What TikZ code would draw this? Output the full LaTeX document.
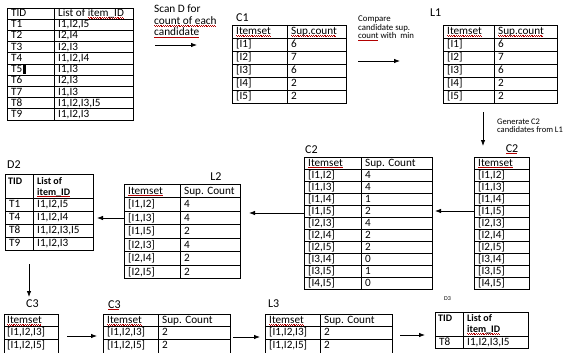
\documentclass[tikz,border=0pt]{standalone}
\usepackage{fontspec}
\setmainfont{Carlito}
\usetikzlibrary{arrows.meta}
% spell-check squiggle under a word
\newsavebox{\sqgbox}
\newcommand{\sqg}[1]{\sbox\sqgbox{#1}\rlap{\textcolor{red!70!black}{\hbox to \wd\sqgbox{\leaders\hbox{\vrule width 0.9pt height -0.9pt depth 1.4pt\vrule width 0.9pt height -1.4pt depth 1.9pt}\hfill}}}\usebox\sqgbox}

\begin{document}
\begin{tikzpicture}[x=1pt, y=-1pt, font=\fontsize{11.2}{12}\selectfont,
	frame/.style={draw, line width=0.8pt, anchor=north west, inner sep=0pt, outer sep=0pt},
	rule/.style={line width=0.8pt},
	cell/.style={anchor=base west, inner sep=0pt},
	tag/.style={anchor=base west, inner sep=0pt, font=\fontsize{12}{13}\selectfont},
	note/.style={anchor=north west, inner sep=0pt, align=left},
	arr/.style={-{Latex[length=6pt,width=4.5pt]}, line width=0.8pt}]
	\useasboundingbox (0,0) rectangle (567,353);
	\clip (0,0) rectangle (567,353);

	% database D
	\node[frame, minimum width=126, minimum height=112] (D) at (7,8) {};
	\draw[rule] (54,8) -- (54,120);
	\foreach \k in {1,...,9} \draw[rule] (7,{8+11.2*\k}) -- (133,{8+11.2*\k});
	\node[cell] (Dh1) at (11,16.6) {TID};
	\node[cell] (Dh2) at (58,16.6) {List of \sqg{item\_ID}};
	\foreach \t/\v [count=\k] in {T1/{I1,I2,I5}, T2/{I2,I4}, T3/{I2,I3}, T4/{I1,I2,I4}, T5/{I1,I3}, T6/{I2,I3}, T7/{I1,I3}, T8/{I1,I2,I3,I5}, T9/{I1,I2,I3}} {
		\node[cell] (Dt\k) at (11,{16.6+11.2*\k}) {\t};
		\node[cell] (Dv\k) at (58,{16.6+11.2*\k}) {\v};
	}
	\fill (Dt5.base east) ++(0.6,1.5) rectangle ++(2.4,-9.5);

	% scan D
	\node[note, font=\fontsize{11.3}{11.5}\selectfont] (scan) at (154,5) {Scan D for\\\sqg{count of each}\\\sqg{candidate}};
	\coordinate (s1) at (155,45);
	\coordinate (s2) at (197,45);
	\draw[arr] (s1) -- (s2);

	% C1
	\node[tag] (C1lab) at (236,22) {C1};
	\node[frame, minimum width=114, minimum height=78] (C1) at (232,25) {};
	\draw[rule] (287,25) -- (287,103);
	\foreach \k in {1,...,5} \draw[rule] (232,{25+13*\k}) -- (346,{25+13*\k});
	\node[cell] (C1h1) at (236,34.6) {\sqg{Itemset}};
	\node[cell] (C1h2) at (291,34.6) {\sqg{Sup.count}};
	\foreach \s/\c [count=\k] in {I1/6, I2/7, I3/6, I4/2, I5/2} {
		\node[cell] (C1s\k) at (236,{34.6+13*\k}) {[\s]};
		\node[cell] (C1c\k) at (291,{34.6+13*\k}) {\c};
	}

	% compare with min
	\node[note, font=\fontsize{8.8}{8.4}\selectfont] (cmp) at (358,16) {Compare\\candidate sup.\\\sqg{count} with~~min};
	\coordinate (m1) at (358,61);
	\coordinate (m2) at (400,61);
	\draw[arr] (m1) -- (m2);

	% L1
	\node[tag] (L1lab) at (430,17) {L1};
	\node[frame, minimum width=114, minimum height=78] (L1) at (443,25) {};
	\draw[rule] (494,25) -- (494,103);
	\foreach \k in {1,...,5} \draw[rule] (443,{25+13*\k}) -- (557,{25+13*\k});
	\node[cell] (L1h1) at (447,34.6) {\sqg{Itemset}};
	\node[cell] (L1h2) at (498,34.6) {\sqg{Sup.count}};
	\foreach \s/\c [count=\k] in {I1/6, I2/7, I3/6, I4/2, I5/2} {
		\node[cell] (L1s\k) at (447,{34.6+13*\k}) {[\s]};
		\node[cell] (L1c\k) at (498,{34.6+13*\k}) {\c};
	}

	% generate C2
	\coordinate (g1) at (483,112);
	\coordinate (g2) at (483,146);
	\draw[arr] (g1) -- (g2);
	\node[note, font=\fontsize{8.5}{8.2}\selectfont] (gen) at (497,119) {Generate C2\\candidates from L1};

	% C2 (candidates)
	\node[tag, anchor=base] (C2rlab) at (512,152) {\sqg{C2}};
	\node[frame, minimum width=55, minimum height=132] (C2r) at (474,157) {};
	\foreach \k in {1,...,10} \draw[rule] (474,{157+12*\k}) -- (529,{157+12*\k});
	\node[cell] (C2rh) at (478,166) {\sqg{Itemset}};
	\foreach \s [count=\k] in {{I1,I2}, {I1,I3}, {I1,I4}, {I1,I5}, {I2,I3}, {I2,I4}, {I2,I5}, {I3,I4}, {I3,I5}, {I4,I5}} {
		\node[cell] (C2rs\k) at (478,{166+12*\k}) {[\s]};
	}
	\coordinate (c2m) at (435,211);
	\draw[arr] (C2r.west |- c2m) -- (c2m);

	% C2 (counted)
	\node[tag] (C2mlab) at (305,153) {C2};
	\node[frame, minimum width=128, minimum height=132] (C2m) at (304,157) {};
	\draw[rule] (361,157) -- (361,289);
	\foreach \k in {1,...,10} \draw[rule] (304,{157+12*\k}) -- (432,{157+12*\k});
	\node[cell] (C2mh1) at (308,166) {\sqg{Itemset}};
	\node[cell] (C2mh2) at (365,166) {Sup. Count};
	\foreach \s/\c [count=\k] in {{I1,I2}/4, {I1,I3}/4, {I1,I4}/1, {I1,I5}/2, {I2,I3}/4, {I2,I4}/2, {I2,I5}/2, {I3,I4}/0, {I3,I5}/1, {I4,I5}/0} {
		\node[cell] (C2ms\k) at (308,{166+12*\k}) {[\s]};
		\node[cell] (C2mc\k) at (365,{166+12*\k}) {\c};
	}
	\coordinate (l2) at (249,213);
	\draw[arr] (C2m.west |- l2) -- (l2);

	% L2
	\node[tag, anchor=base] (L2lab) at (216,180) {L2};
	\node[frame, minimum width=116, minimum height=94.5] (L2) at (124,184) {};
	\draw[rule] (180,184) -- (180,278.5);
	\foreach \k in {1,...,6} \draw[rule] (124,{184+13.5*\k}) -- (240,{184+13.5*\k});
	\node[cell] (L2h1) at (128,194) {\sqg{Itemset}};
	\node[cell] (L2h2) at (184,194) {Sup. Count};
	\foreach \s/\c [count=\k] in {{I1,I2}/4, {I1,I3}/4, {I1,I5}/2, {I2,I3}/4, {I2,I4}/2, {I2,I5}/2} {
		\node[cell] (L2s\k) at (128,{194+13.5*\k}) {[\s]};
		\node[cell] (L2c\k) at (184,{194+13.5*\k}) {\c};
	}
	\coordinate (d2) at (97,218);
	\draw[arr] (L2.west |- d2) -- (d2);

	% D2
	\node[tag] (D2lab) at (7,168) {D2};
	\node[frame, minimum width=88, minimum height=76] (D2) at (5,174) {};
	\draw[rule] (33,174) -- (33,250);
	\foreach \k in {0,...,3} \draw[rule] (5,{198+13*\k}) -- (93,{198+13*\k});
	\node[cell, font=\bfseries] (D2h1) at (8,184) {TID};
	\node[cell, font=\bfseries] (D2h2) at (37,184) {List of};
	\node[cell, font=\bfseries] (D2h3) at (37,195) {\sqg{item\_ID}};
	\foreach \t/\v [count=\k] in {T1/{I1,I2,I5}, T4/{I1,I2,I4}, T8/{I1,I2,I3,I5}, T9/{I1,I2,I3}} {
		\node[cell] (D2t\k) at (9,{194.6+13*\k}) {\t};
		\node[cell] (D2v\k) at (37,{194.6+13*\k}) {\v};
	}
	\coordinate (c3) at (29,297);
	\coordinate (d2b) at (29,264);
	\draw[arr] (d2b) -- (c3);

	% C3 (candidates)
	\node[tag] (C3llab) at (26,307) {C3};
	\node[frame, minimum width=54, minimum height=40] (C3l) at (4,314) {};
	\foreach \k in {1,2} \draw[rule] (4,{314+12.5*\k}) -- (58,{314+12.5*\k});
	\node[cell] (C3lh) at (7,323.3) {\sqg{Itemset}};
	\foreach \s [count=\k] in {{I1,I2,I3}, {I1,I2,I5}} {
		\node[cell] (C3ls\k) at (7,{323.3+12.5*\k}) {[\s]};
	}
	\coordinate (e1) at (67,336);
	\coordinate (e2) at (97,336);
	\draw[arr] (e1) -- (e2);

	% C3 (counted)
	\node[tag] (C3mlab) at (108,308) {\sqg{C3}};
	\node[frame, minimum width=127, minimum height=40] (C3m) at (103,314) {};
	\draw[rule] (158,314) -- (158,354);
	\foreach \k in {1,2} \draw[rule] (103,{314+12.5*\k}) -- (230,{314+12.5*\k});
	\node[cell] (C3mh1) at (107,323.3) {\sqg{Itemset}};
	\node[cell] (C3mh2) at (162,323.3) {Sup. Count};
	\foreach \s/\c [count=\k] in {{I1,I2,I3}/2, {I1,I2,I5}/2} {
		\node[cell] (C3ms\k) at (107,{323.3+12.5*\k}) {[\s]};
		\node[cell] (C3mc\k) at (162,{323.3+12.5*\k}) {\c};
	}
	\coordinate (f1) at (233,337);
	\coordinate (f2) at (260,337);
	\draw[arr] (f1) -- (f2);

	% L3
	\node[tag] (L3lab) at (268,307) {L3};
	\node[frame, minimum width=127, minimum height=40] (L3) at (265,314) {};
	\draw[rule] (320,314) -- (320,354);
	\foreach \k in {1,2} \draw[rule] (265,{314+12.5*\k}) -- (392,{314+12.5*\k});
	\node[cell] (L3h1) at (269,323.3) {\sqg{Itemset}};
	\node[cell] (L3h2) at (324,323.3) {Sup. Count};
	\foreach \s/\c [count=\k] in {{I1,I2,I3}/2, {I1,I2,I5}/2} {
		\node[cell] (L3s\k) at (269,{323.3+12.5*\k}) {[\s]};
		\node[cell] (L3c\k) at (324,{323.3+12.5*\k}) {\c};
	}
	\coordinate (h1) at (400,335);
	\coordinate (h2) at (425,335);
	\draw[arr] (h1) -- (h2);

	% D3
	\node[tag, font=\fontsize{6}{7}\selectfont] (D3lab) at (444,300) {D3};
	\node[frame, minimum width=93, minimum height=36] (D3) at (435,312) {};
	\draw[rule] (463,312) -- (463,348);
	\draw[rule] (435,336) -- (528,336);
	\node[cell, font=\bfseries] (D3h1) at (438,321.5) {TID};
	\node[cell, font=\bfseries] (D3h2) at (467,321.5) {List of};
	\node[cell, font=\bfseries] (D3h3) at (467,332.5) {\sqg{item\_ID}};
	\node[cell] (D3t1) at (439,345.3) {T8};
	\node[cell] (D3v1) at (467,345.3) {I1,I2,I3,I5};
\end{tikzpicture}
\end{document}
